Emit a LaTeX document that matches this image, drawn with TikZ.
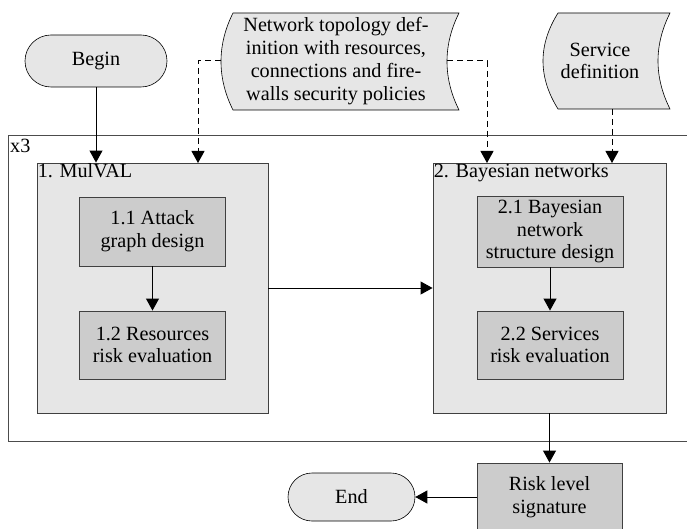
\documentclass[tikz,border=0pt]{standalone}
\usepackage{fontspec}
\setmainfont{Liberation Serif}
\usetikzlibrary{arrows.meta}
\definecolor{lightfill}{HTML}{E6E6E6}
\definecolor{darkfill}{HTML}{CCCCCC}
\begin{document}
\begin{tikzpicture}[x=1pt,y=-1pt,
  font=\fontsize{20.2}{22.8}\selectfont,
  bigbox/.style={draw=black!75,line width=0.9pt,fill=lightfill,minimum width=#1,minimum height=250pt,inner sep=0pt},
  subbox/.style={draw=black!75,line width=0.9pt,fill=darkfill,minimum width=146pt,minimum height=#1,align=center,inner sep=1pt},
  term/.style={draw=black,line width=0.6pt,fill=lightfill,rounded corners=24pt,minimum width=#1,minimum height=50pt},
  docshape/.style={draw=black,line width=0.6pt,fill=lightfill},
  flow/.style={line width=1pt,-{Triangle[length=12pt,width=13pt]}},
  dflow/.style={flow,dash pattern=on 6pt off 4pt},
  lbl/.style={inner sep=1pt,anchor=north west}
]
\clip (0,0) rectangle (687,529);
\fill[white] (0,0) rectangle (687,529);
% outer repetition frame
\draw[black!70,line width=0.8pt] (730,135) -- (8,135) -- (8,441) -- (730,441);
\node[lbl,anchor=west] (x3) at (9,146) {x3};
% terminals
\node[term=142pt,minimum height=52pt,rounded corners=26pt] (begin) at (96,61) {Begin};
\node[term=127pt,minimum height=48pt] (end) at (351.5,497) {End};
% document shapes
\draw[docshape] (233,13) -- (459,13) .. controls (443,45) and (443,78) .. (459,110)
  -- (233,110) .. controls (217,78) and (217,45) .. (233,13) -- cycle;
\node[align=center,inner sep=0pt] (topo) at (336,61) {Network topology def-\\inition with resources,\\connections and fire-\\walls security policies};
\draw[docshape] (558,13) -- (670,13) .. controls (654,45) and (654,77) .. (670,109)
  -- (558,109) .. controls (538,77) and (538,45) .. (558,13) -- cycle;
\node[align=center,inner sep=0pt] (serv) at (600,61) {Service\\definition};
% main boxes
\node[bigbox=231pt] (mulval) at (152.5,288) {};
\node[lbl] (mulvallbl) at (mulval.north west) {1. MulVAL};
\node[bigbox=233pt] (bayes) at (549.5,288) {};
\node[lbl] (bayeslbl) at (bayes.north west) {2. Bayesian networks};
\node[subbox=69pt] (a11) at (152.5,231.5) {1.1 Attack\\graph design};
\node[subbox=68pt] (a12) at (152.5,345) {1.2 Resources\\risk evaluation};
\node[subbox=71pt] (b21) at (550,231.5) {2.1 Bayesian\\network\\structure design};
\node[subbox=68pt] (b22) at (550,345) {2.2 Services\\risk evaluation};
\node[subbox=68pt,minimum width=145pt] (risk) at (549.5,497) {Risk level\\signature};
% connector points
\coordinate (topoW) at (221,61);
\coordinate (topoE) at (447,61);
\coordinate (servS) at (612,109);
\coordinate (mulIn) at (198,163);
\coordinate (bayIn) at (487,163);
\coordinate (bayIn2) at (612,163);
% connectors
\draw[flow] (begin.south) -- (begin.south |- mulval.north);
\draw[flow] (a11) -- (a12);
\draw[flow] (b21) -- (b22);
\draw[flow] (mulval.east) -- (bayes.west);
\draw[flow] (bayes.south) -- (risk.north);
\draw[flow] (risk.west) -- (end.east);
\draw[dflow] (topoW) -| (mulIn);
\draw[dflow] (topoE) -| (bayIn);
\draw[dflow] (servS) -- (bayIn2);
\end{tikzpicture}
\end{document}
